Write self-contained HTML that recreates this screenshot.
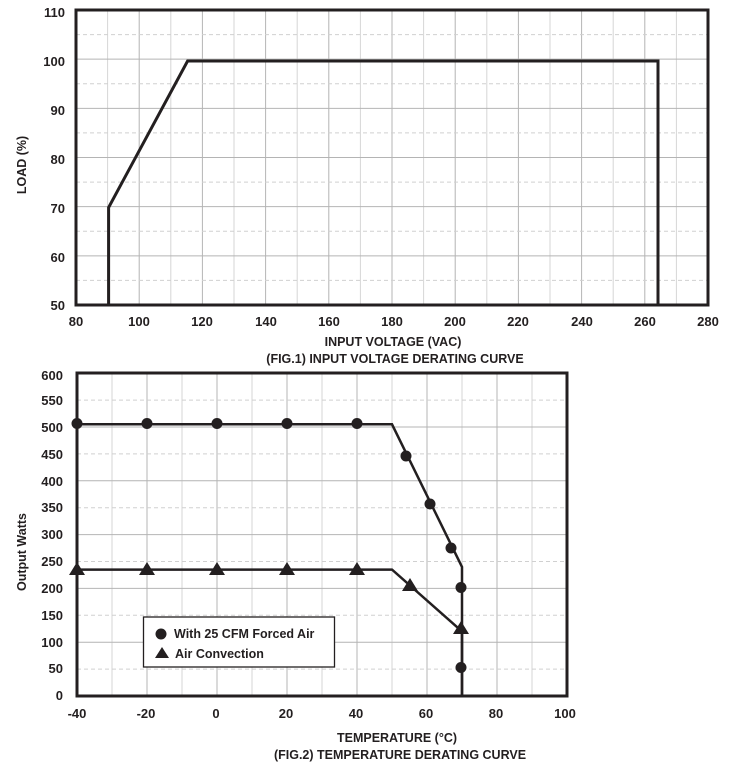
<!DOCTYPE html>
<html><head><meta charset="utf-8"><style>
html,body{margin:0;padding:0;background:#fff;}
svg{display:block;font-family:"Liberation Sans",Arial,sans-serif;font-weight:bold;fill:#231f20;}
</style></head><body>
<svg id="s" width="737" height="768" viewBox="0 0 737 768" xmlns="http://www.w3.org/2000/svg">
<g id="g1"></g>
<g id="g2"></g>
<!-- Fig1 curve -->
<polyline points="108.6,305 108.6,207.5 187.6,61 658,61 658,305" fill="none" stroke="#231f20" stroke-width="3"/>
<rect x="76" y="10" width="632" height="295" fill="none" stroke="#231f20" stroke-width="3"/>
<g font-size="13" text-anchor="end">
<text x="65" y="17">110</text><text x="65" y="66">100</text><text x="65" y="115">90</text><text x="65" y="164">80</text><text x="65" y="213">70</text><text x="65" y="262">60</text><text x="65" y="310">50</text>
</g>
<g font-size="13" text-anchor="middle">
<text x="76" y="326">80</text><text x="139" y="326">100</text><text x="202" y="326">120</text><text x="266" y="326">140</text><text x="329" y="326">160</text><text x="392" y="326">180</text><text x="455" y="326">200</text><text x="518" y="326">220</text><text x="582" y="326">240</text><text x="645" y="326">260</text><text x="708" y="326">280</text>
<text x="393" y="346" font-size="12.5">INPUT VOLTAGE (VAC)</text>
<text x="395" y="363" font-size="12.5">(FIG.1) INPUT VOLTAGE DERATING CURVE</text>
<text transform="translate(26,165) rotate(-90)" font-size="12.5">LOAD (%)</text>
</g>
<!-- Fig2 -->
<polyline points="77,424.3 392,424.3 462,566.9 462,696" fill="none" stroke="#231f20" stroke-width="2.5"/>
<polyline points="77,569.6 392,569.6 462,631.4 462,696" fill="none" stroke="#231f20" stroke-width="2.5"/>
<g fill="#231f20">
<circle cx="77" cy="423.5" r="5.5"/><circle cx="147" cy="423.5" r="5.5"/><circle cx="217" cy="423.5" r="5.5"/><circle cx="287" cy="423.5" r="5.5"/><circle cx="357" cy="423.5" r="5.5"/>
<circle cx="406" cy="456" r="5.5"/><circle cx="430" cy="504" r="5.5"/><circle cx="451" cy="548" r="5.5"/><circle cx="461" cy="587.5" r="5.5"/><circle cx="461" cy="667.5" r="5.5"/>
<polygon points="77,562 69,575 85,575"/><polygon points="147,562 139,575 155,575"/><polygon points="217,562 209,575 225,575"/><polygon points="287,562 279,575 295,575"/><polygon points="357,562 349,575 365,575"/>
<polygon points="410,578 402,591 418,591"/><polygon points="461,621 453,634 469,634"/>
</g>
<rect x="77" y="373" width="490" height="323" fill="none" stroke="#231f20" stroke-width="3"/>
<rect x="143.5" y="617" width="191" height="50" fill="#fff" stroke="#231f20" stroke-width="1.3"/>
<circle cx="161" cy="634" r="5.5"/>
<polygon points="162,647 155,658 169,658"/>
<text x="174" y="638" font-size="12.5">With 25 CFM Forced Air</text>
<text x="175" y="658" font-size="12.5">Air Convection</text>
<g font-size="13" text-anchor="end">
<text x="63" y="380">600</text><text x="63" y="405">550</text><text x="63" y="432">500</text><text x="63" y="459">450</text><text x="63" y="486">400</text><text x="63" y="512">350</text><text x="63" y="539">300</text><text x="63" y="566">250</text><text x="63" y="593">200</text><text x="63" y="620">150</text><text x="63" y="647">100</text><text x="63" y="673">50</text><text x="63" y="700">0</text>
</g>
<g font-size="13" text-anchor="middle">
<text x="77" y="718">-40</text><text x="146" y="718">-20</text><text x="216" y="718">0</text><text x="286" y="718">20</text><text x="356" y="718">40</text><text x="426" y="718">60</text><text x="496" y="718">80</text><text x="565" y="718">100</text>
<text x="397" y="742" font-size="12.5">TEMPERATURE (°C)</text>
<text x="400" y="759" font-size="12.5">(FIG.2) TEMPERATURE DERATING CURVE</text>
<text transform="translate(26,552) rotate(-90)" font-size="12.5">Output Watts</text>
</g>
</svg>
<script>
var NS="http://www.w3.org/2000/svg";
function ln(g,x1,y1,x2,y2,dash,col){var l=document.createElementNS(NS,"line");l.setAttribute("x1",x1);l.setAttribute("y1",y1);l.setAttribute("x2",x2);l.setAttribute("y2",y2);l.setAttribute("stroke",col);l.setAttribute("stroke-width","1");if(dash)l.setAttribute("stroke-dasharray","4,3");g.appendChild(l);}
var g1=document.getElementById("g1"),g2=document.getElementById("g2");
for(var v=80;v<=280;v+=10){var x=76+(v-80)*3.16;ln(g1,x,10,x,305,false,v%20?"#d6d6d6":"#b4b4b4");}
for(var v=50;v<=110;v+=5){var y=305-(v-50)*4.917;ln(g1,76,y,708,y,v%10!=0,v%10?"#d0d0d0":"#b4b4b4");}
for(var v=-40;v<=100;v+=10){var x=77+(v+40)*3.5;ln(g2,x,373,x,696,false,v%20?"#d6d6d6":"#b4b4b4");}
for(var v=0;v<=600;v+=50){var y=696-v*0.538;ln(g2,77,y,567,y,v%100!=0,v%100?"#d0d0d0":"#b4b4b4");}
</script>
</body></html>
